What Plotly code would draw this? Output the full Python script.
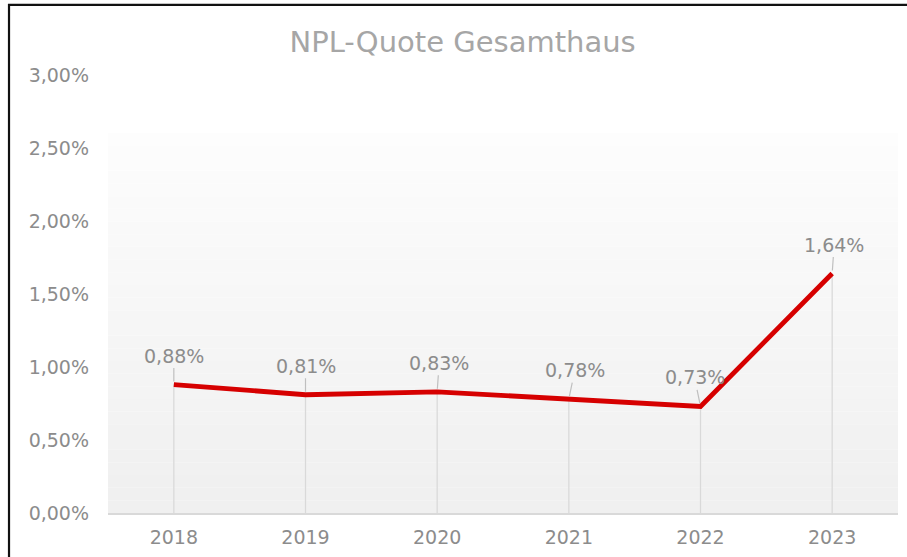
import plotly.graph_objects as go

years = ["2018", "2019", "2020", "2021", "2022", "2023"]
npl_quote = [0.0088, 0.0081, 0.0083, 0.0078, 0.0073, 0.0164]
label_texts = ["0,88%", "0,81%", "0,83%", "0,78%", "0,73%", "1,64%"]
label_dx = [0, 0, 2, 6, -6, 2]

grey_text = "#8c8c8c"
red = "#d60000"
font_family = "DejaVu Sans"

fig = go.Figure()

# Lotlinien von den Punkten zur Achse
fig.add_trace(go.Scatter(
    x=years, y=npl_quote, mode="markers", marker=dict(size=1, color="rgba(0,0,0,0)"),
    error_y=dict(type="data", symmetric=False, array=[0] * len(npl_quote), arrayminus=npl_quote,
                 color="#d9d9d9", thickness=1.3, width=0),
    hoverinfo="skip", showlegend=False,
))

fig.add_trace(go.Scatter(
    x=years, y=npl_quote, mode="lines", line=dict(color=red, width=4.8),
    showlegend=False,
))

# Datenbeschriftungen mit Führungslinien
for i, (v, t, dx) in enumerate(zip(npl_quote, label_texts, label_dx)):
    fig.add_annotation(
        x=i, y=v, xref="x", yref="y", text=t, showarrow=True, arrowhead=0, arrowwidth=1.2,
        arrowcolor="#bfbfbf", ax=dx, ay=-29, standoff=3,
        font=dict(family=font_family, size=19, color=grey_text),
    )

# Verlauf im Plotbereich (hell oben, grau unten)
n_bands = 30
top = 0.868
for i in range(n_bands):
    y0 = top * i / n_bands
    y1 = top * (i + 1) / n_bands
    g = int(240 + (253 - 240) * (i / (n_bands - 1)))
    fig.add_shape(type="rect", xref="paper", yref="paper", x0=0, x1=1, y0=y0, y1=y1,
                  fillcolor=f"rgb({g},{g},{g})", line=dict(width=0), layer="below")

# Rahmen (oben und links)
fig.add_shape(type="path", xref="paper", yref="paper",
              path="M -0.1253,-0.12 L -0.1253,1.16 L 1.02,1.16",
              line=dict(color="#111111", width=2.2))

fig.update_layout(
    width=907, height=557,
    margin=dict(l=108, r=9, t=75, b=44, autoexpand=False),
    paper_bgcolor="white", plot_bgcolor="rgba(0,0,0,0)",
    separators=",.",
    title=dict(text="NPL-Quote Gesamthaus", x=0.51, xanchor="center", y=0.925, yanchor="middle",
               font=dict(family=font_family, size=29, color="#a6a6a6")),
    font=dict(family=font_family, size=19, color=grey_text),
    xaxis=dict(type="category", range=[-0.5, 5.5], showgrid=False, zeroline=False,
               showline=True, linecolor="#d9d9d9", linewidth=1.5, ticks="", automargin=False,
               ticklabelstandoff=6, tickfont=dict(size=19, color=grey_text)),
    yaxis=dict(range=[0, 0.03], dtick=0.005, tickformat=".2%", showgrid=False, automargin=False,
               zeroline=False, showline=False, ticks="", ticklabelstandoff=18,
               tickfont=dict(size=19, color=grey_text)),
)

fig.write_html("out.html", config={"displayModeBar": False},
               post_script="document.body.style.margin='0';")
